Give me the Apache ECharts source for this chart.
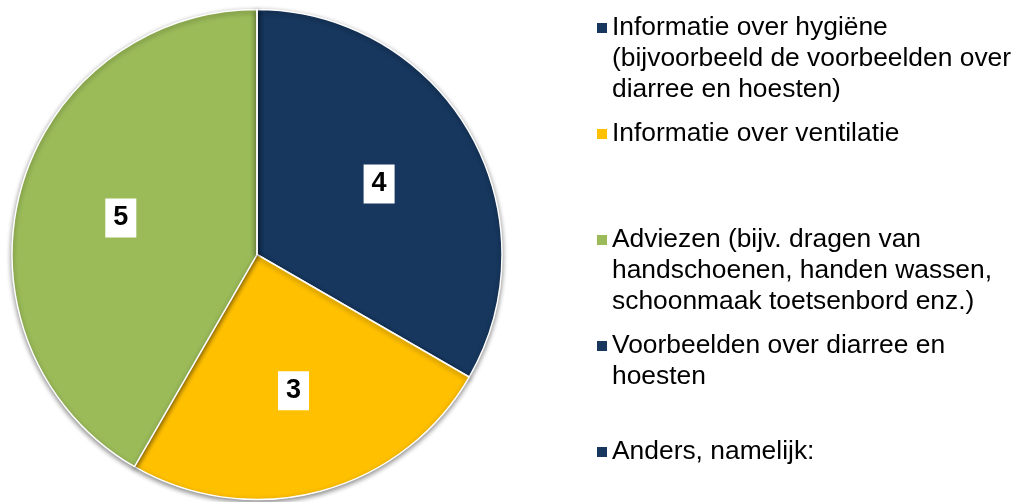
<!DOCTYPE html>
<html>
<head>
<meta charset="utf-8">
<script src="https://cdn.jsdelivr.net/npm/echarts@6/dist/echarts.min.js"></script>
<style>
html,body{margin:0;padding:0;background:#fff;}
#chart{width:1022px;height:502px;}
</style>
</head>
<body>
<div id="chart"></div>
<script>
// antwoorden
var categories = [
	'Informatie over hygiëne (bijvoorbeeld de voorbeelden over diarree en hoesten)',
	'Informatie over ventilatie',
	'Adviezen (bijv. dragen van handschoenen, handen wassen, schoonmaak toetsenbord enz.)',
	'Voorbeelden over diarree en hoesten',
	'Anders, namelijk:'
];
// zoals in de legenda afgebroken
var legendText = [
	'Informatie over hygiëne\n(bijvoorbeeld de voorbeelden over\ndiarree en hoesten)',
	'Informatie over ventilatie',
	'Adviezen (bijv. dragen van\nhandschoenen, handen wassen,\nschoonmaak toetsenbord enz.)',
	'Voorbeelden over diarree en\nhoesten',
	'Anders, namelijk:'
];
var values = [4, 3, 5, 0, 0];

var palette = ['#17375E', '#FFC000', '#9BBB59', '#17375E', '#17375E'];
var FONT = '"Liberation Sans", Arial, sans-serif';

var pieData = [];
var labelData = [];
for (var i = 0; i < categories.length; i++) {
	pieData.push({
		name: categories[i],
		value: values[i],
		itemStyle: {color: palette[i]}
	});
	labelData.push({
		name: categories[i],
		value: values[i],
		label: {show: values[i] > 0}
	});
}

// legenda: elk item apart. Het icoon staat midden op de tekst,
// dus lege regels erboven zodat het bij de eerste regel staat
var lh = 31, legendFirst = 28, legendStep = 106;
var legends = [];
for (var i = 0; i < categories.length; i++) {
	var n = legendText[i].split('\n').length;
	var c = legendFirst + legendStep * i;
	var txt = new Array(n).join('\n') + legendText[i];
	legends.push({
		data: [categories[i]],
		orient: 'vertical',
		left: 597,
		top: c - (2 * n - 1) * lh / 2,
		padding: 0,
		itemWidth: 10,
		itemHeight: 10,
		icon: 'rect',
		itemStyle: {borderWidth: 0, shadowBlur: 0},
		selectedMode: false,
		formatter: (function (t) { return function () { return t; }; })(txt),
		textStyle: {
			fontFamily: FONT,
			fontSize: 26.4,
			lineHeight: lh,
			color: '#000'
		}
	});
}

var option = {
	animation: false,
	backgroundColor: '#fff',
	legend: legends,
	series: [{
		type: 'pie',
		center: [257, 254.5],
		radius: 245,
		startAngle: 90,
		clockwise: true,
		label: {show: false},
		labelLine: {show: false},
		emphasis: {disabled: true},
		itemStyle: {
			borderColor: '#fff',
			borderWidth: 1.5,
			shadowBlur: 5,
			shadowOffsetY: 2,
			shadowColor: 'rgba(0,0,0,0.45)'
		},
		data: pieData
	}, {
		// alleen voor de getallen, iets verder naar buiten
		type: 'pie',
		silent: true,
		center: [257, 254.5],
		radius: [0, 276],
		startAngle: 90,
		clockwise: true,
		itemStyle: {color: 'rgba(0,0,0,0)', borderWidth: 0},
		emphasis: {disabled: true},
		labelLine: {show: false},
		label: {
			position: 'inside',
			formatter: '{c}',
			fontFamily: FONT,
			fontSize: 27,
			fontWeight: 'bold',
			color: '#000',
			backgroundColor: '#fff',
			lineHeight: 31,
			padding: [4, 8, 4, 8]
		},
		data: labelData
	}]
};

var myChart = echarts.init(document.getElementById('chart'));
myChart.setOption(option);
</script>
</body>
</html>
